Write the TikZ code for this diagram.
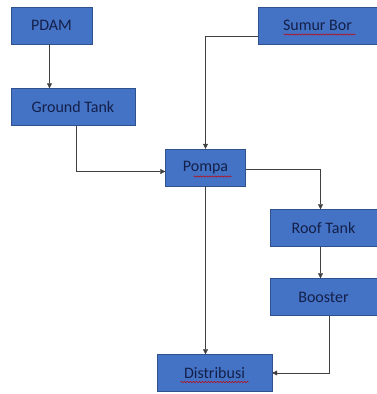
\documentclass[tikz,border=0pt]{standalone}
\usepackage{fontspec}
\setmainfont{Carlito}
\usetikzlibrary{positioning,arrows.meta,decorations.pathmorphing}

\definecolor{boxblue}{HTML}{4472C4}
\definecolor{boxline}{HTML}{2F528F}
\definecolor{boxtext}{HTML}{14204A}

\tikzset{
  block/.style={draw=boxline, fill=boxblue, text=boxtext, minimum height=37pt,
                inner sep=0pt, font=\fontsize{16}{18}\selectfont},
  flow/.style={draw=black!75, line width=0.6pt, -{Triangle[length=5pt,width=5pt]}},
  spell/.style={draw=red!80!black, line width=0.5pt,
                decorate, decoration={snake, amplitude=0.6pt, segment length=3pt}}
}

\begin{document}
\begin{tikzpicture}[x=1pt, y=-1pt]
          \useasboundingbox (0,0) rectangle (377,394);

          \node[block, minimum width=81pt]  (pdam)   at (51.5,25.5)  {PDAM};
          \node[block, minimum width=119pt] (sumur)  at (317.5,25.5) {Sumur Bor};
          \node[block, minimum width=124pt] (ground) at (73,107)     {Ground Tank};
          \node[block, minimum width=80pt]  (pompa)  at (205.5,167.5) {Pompa};
          \node[block, minimum width=107pt] (roof)   at (323.5,228)  {Roof Tank};
          \node[block, minimum width=107pt] (boost)  at (323.5,297)  {Booster};
          \node[block, minimum width=115pt] (distr)  at (214.5,373)  {Distribusi};

          \draw[flow] ([xshift=-2pt]pdam.south) -- ([xshift=-2pt]pdam.south |- ground.north);
          \draw[flow] ([xshift=3pt]ground.south) |- ([yshift=-4pt]pompa.west);
          \draw[flow] ([yshift=-11pt]sumur.west) -| (pompa);
          \draw[flow] ([yshift=-2pt]pompa.east) -| ([xshift=-3pt]roof.north);
          \draw[flow] (pompa) -- (pompa |- distr.north);
          \draw[flow] ([xshift=-3pt]roof.south) -- ([xshift=-3pt]boost.north);
          \draw[flow] ([xshift=6pt]boost.south) |- (distr);

          % spelling marks
          \draw[spell] ([xshift=-34pt,yshift=-9pt]sumur.center) -- ++(72,0);
          \draw[spell] ([xshift=-12pt,yshift=-9pt]pompa.center) -- ++(38,0);
          \draw[spell] ([xshift=-34pt,yshift=-9pt]distr.center) -- ++(68,0);
        \end{tikzpicture}
\end{document}
